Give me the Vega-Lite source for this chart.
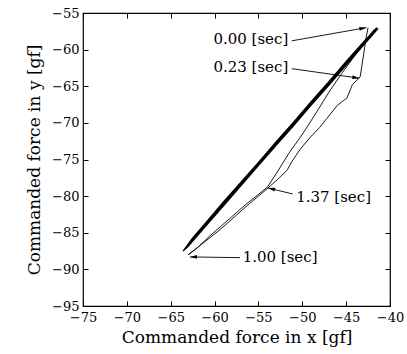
{
  "$schema": "https://vega.github.io/schema/vega-lite/v6.json",
  "width": 307,
  "height": 293,
  "autosize": {"type": "none"},
  "padding": {"left": 83, "top": 13, "right": 17, "bottom": 48},
  "background": "white",
  "config": {
    "view": {"stroke": "#000", "strokeWidth": 1.2},
    "font": "DejaVu Serif",
    "axis": {
      "grid": false,
      "domain": false,
      "tickColor": "#000",
      "tickSize": -5,
      "tickWidth": 1,
      "labelColor": "#000",
      "labelFont": "DejaVu Serif",
      "labelFontSize": 13,
      "titleFont": "DejaVu Serif",
      "titleFontSize": 17,
      "titleFontWeight": "normal",
      "titleColor": "#000",
      "labelFlush": false,
      "labelOverlap": false
    }
  },
  "datasets": {
    "traj": [
      {"s": "thin", "i": 1, "x": -42.5, "y": -57.0},
      {"s": "thin", "i": 2, "x": -42.7, "y": -58.2},
      {"s": "thin", "i": 3, "x": -43.0, "y": -60.6},
      {"s": "thin", "i": 4, "x": -43.4, "y": -63.7},
      {"s": "thin", "i": 5, "x": -44.3, "y": -64.8},
      {"s": "thin", "i": 6, "x": -44.9, "y": -66.6},
      {"s": "thin", "i": 7, "x": -46.0, "y": -67.6},
      {"s": "thin", "i": 8, "x": -47.2, "y": -69.4},
      {"s": "thin", "i": 9, "x": -48.0, "y": -70.6},
      {"s": "thin", "i": 10, "x": -49.2, "y": -72.1},
      {"s": "thin", "i": 11, "x": -50.3, "y": -73.7},
      {"s": "thin", "i": 12, "x": -51.2, "y": -75.3},
      {"s": "thin", "i": 13, "x": -51.7, "y": -76.4},
      {"s": "thin", "i": 14, "x": -52.6, "y": -77.5},
      {"s": "thin", "i": 15, "x": -54.4, "y": -79.4},
      {"s": "thin", "i": 16, "x": -56.0, "y": -81.0},
      {"s": "thin", "i": 17, "x": -57.6, "y": -82.7},
      {"s": "thin", "i": 18, "x": -59.5, "y": -84.7},
      {"s": "thin", "i": 19, "x": -61.3, "y": -86.4},
      {"s": "thin", "i": 20, "x": -63.0, "y": -88.0},
      {"s": "thin", "i": 21, "x": -62.2, "y": -87.3},
      {"s": "thin", "i": 22, "x": -60.6, "y": -85.5},
      {"s": "thin", "i": 23, "x": -58.6, "y": -83.4},
      {"s": "thin", "i": 24, "x": -56.4, "y": -81.1},
      {"s": "thin", "i": 25, "x": -54.0, "y": -78.8},
      {"s": "thin", "i": 26, "x": -52.9, "y": -76.8},
      {"s": "thin", "i": 27, "x": -51.5, "y": -74.1},
      {"s": "thin", "i": 28, "x": -49.9, "y": -71.4},
      {"s": "thin", "i": 29, "x": -48.3, "y": -68.4},
      {"s": "thin", "i": 30, "x": -46.8, "y": -65.5},
      {"s": "thin", "i": 31, "x": -45.4, "y": -63.1},
      {"s": "thin", "i": 32, "x": -44.0, "y": -60.8},
      {"s": "thin", "i": 33, "x": -42.8, "y": -58.8},
      {"s": "thin", "i": 34, "x": -41.5, "y": -57.0},
      {"s": "band", "i": 35, "x": -41.5, "y": -57.0},
      {"s": "band", "i": 36, "x": -43.0, "y": -58.9},
      {"s": "band", "i": 37, "x": -45.0, "y": -61.6},
      {"s": "band", "i": 38, "x": -47.0, "y": -64.4},
      {"s": "band", "i": 39, "x": -49.0, "y": -67.1},
      {"s": "band", "i": 40, "x": -51.0, "y": -69.9},
      {"s": "band", "i": 41, "x": -53.0, "y": -72.6},
      {"s": "band", "i": 42, "x": -55.0, "y": -75.4},
      {"s": "band", "i": 43, "x": -57.0, "y": -78.1},
      {"s": "band", "i": 44, "x": -59.0, "y": -80.8},
      {"s": "band", "i": 45, "x": -61.0, "y": -83.6},
      {"s": "band", "i": 46, "x": -62.5, "y": -85.7},
      {"s": "band", "i": 47, "x": -63.6, "y": -87.5},
      {"s": "band", "i": 48, "x": -63.2, "y": -87.1},
      {"s": "band", "i": 49, "x": -62.5, "y": -86.0},
      {"s": "band", "i": 50, "x": -61.0, "y": -84.0},
      {"s": "band", "i": 51, "x": -59.0, "y": -81.2},
      {"s": "band", "i": 52, "x": -57.0, "y": -78.5},
      {"s": "band", "i": 53, "x": -55.0, "y": -75.7},
      {"s": "band", "i": 54, "x": -53.0, "y": -73.0},
      {"s": "band", "i": 55, "x": -51.0, "y": -70.3},
      {"s": "band", "i": 56, "x": -49.0, "y": -67.5},
      {"s": "band", "i": 57, "x": -47.0, "y": -64.8},
      {"s": "band", "i": 58, "x": -45.0, "y": -62.0},
      {"s": "band", "i": 59, "x": -43.0, "y": -59.3},
      {"s": "band", "i": 60, "x": -41.6, "y": -57.3},
      {"s": "band", "i": 61, "x": -41.8, "y": -57.3},
      {"s": "band", "i": 62, "x": -43.0, "y": -59.05},
      {"s": "band", "i": 63, "x": -45.0, "y": -61.8},
      {"s": "band", "i": 64, "x": -47.0, "y": -64.5},
      {"s": "band", "i": 65, "x": -49.0, "y": -67.3},
      {"s": "band", "i": 66, "x": -51.0, "y": -70.0},
      {"s": "band", "i": 67, "x": -53.0, "y": -72.8},
      {"s": "band", "i": 68, "x": -55.0, "y": -75.5},
      {"s": "band", "i": 69, "x": -57.0, "y": -78.25},
      {"s": "band", "i": 70, "x": -59.0, "y": -81.0},
      {"s": "band", "i": 71, "x": -61.0, "y": -83.75},
      {"s": "band", "i": 72, "x": -62.5, "y": -85.8},
      {"s": "band", "i": 73, "x": -63.4, "y": -87.3},
      {"s": "band", "i": 74, "x": -63.0, "y": -86.85},
      {"s": "band", "i": 75, "x": -61.0, "y": -84.1},
      {"s": "band", "i": 76, "x": -59.0, "y": -81.35},
      {"s": "band", "i": 77, "x": -57.0, "y": -78.6},
      {"s": "band", "i": 78, "x": -55.0, "y": -75.85},
      {"s": "band", "i": 79, "x": -53.0, "y": -73.1},
      {"s": "band", "i": 80, "x": -51.0, "y": -70.4},
      {"s": "band", "i": 81, "x": -49.0, "y": -67.6},
      {"s": "band", "i": 82, "x": -47.0, "y": -64.9},
      {"s": "band", "i": 83, "x": -45.0, "y": -62.15},
      {"s": "band", "i": 84, "x": -43.0, "y": -59.4},
      {"s": "band", "i": 85, "x": -41.4, "y": -57.2},
      {"s": "band", "i": 86, "x": -41.6, "y": -57.2},
      {"s": "band", "i": 87, "x": -43.0, "y": -59.15},
      {"s": "band", "i": 88, "x": -45.0, "y": -61.9},
      {"s": "band", "i": 89, "x": -47.0, "y": -64.65},
      {"s": "band", "i": 90, "x": -49.0, "y": -67.4},
      {"s": "band", "i": 91, "x": -51.0, "y": -70.1},
      {"s": "band", "i": 92, "x": -53.0, "y": -72.9},
      {"s": "band", "i": 93, "x": -55.0, "y": -75.6},
      {"s": "band", "i": 94, "x": -57.0, "y": -78.35},
      {"s": "band", "i": 95, "x": -59.0, "y": -81.1},
      {"s": "band", "i": 96, "x": -61.0, "y": -83.85},
      {"s": "band", "i": 97, "x": -62.8, "y": -86.3}
    ],
    "notes": [
      {"label": "0.00 [sec]", "side": "right", "tx": -51.6, "ty": -58.5, "x1": -51.2, "y1": -58.8, "x2": -42.7, "y2": -57.0},
      {"label": "0.23 [sec]", "side": "right", "tx": -51.6, "ty": -62.4, "x1": -51.2, "y1": -62.6, "x2": -43.5, "y2": -63.9},
      {"label": "1.37 [sec]", "side": "left", "tx": -50.7, "ty": -80.1, "x1": -51.1, "y1": -79.7, "x2": -53.9, "y2": -78.9},
      {"label": "1.00 [sec]", "side": "left", "tx": -56.8, "ty": -88.3, "x1": -57.1, "y1": -88.4, "x2": -62.8, "y2": -88.3}
    ]
  },
  "layer": [
    {
      "data": {"name": "traj"},
      "transform": [{"filter": "datum.s === 'thin'"}],
      "mark": {"type": "line", "color": "#000", "strokeWidth": 0.9},
      "encoding": {
        "x": {"field": "x", "type": "quantitative", "scale": {"domain": [-75, -40], "nice": false, "zero": false},
              "axis": {"orient": "bottom", "values": [-75, -70, -65, -60, -55, -50, -45, -40], "title": "Commanded force in x [gf]", "labelPadding": 10, "titlePadding": 5}},
        "y": {"field": "y", "type": "quantitative", "scale": {"domain": [-95, -55], "nice": false, "zero": false},
              "axis": {"orient": "left", "values": [-95, -90, -85, -80, -75, -70, -65, -60, -55], "title": "Commanded force in y [gf]", "labelPadding": 9, "titlePadding": 8}},
        "order": {"field": "i", "type": "quantitative"}
      }
    },
    {
      "data": {"name": "traj"},
      "transform": [{"filter": "datum.s === 'band'"}],
      "mark": {"type": "line", "color": "#000", "strokeWidth": 1.1},
      "encoding": {
        "x": {"field": "x", "type": "quantitative", "scale": {"domain": [-75, -40], "nice": false, "zero": false},
              "axis": {"orient": "top", "values": [-75, -70, -65, -60, -55, -50, -45, -40], "labels": false, "title": null}},
        "y": {"field": "y", "type": "quantitative", "scale": {"domain": [-95, -55], "nice": false, "zero": false},
              "axis": {"orient": "right", "values": [-95, -90, -85, -80, -75, -70, -65, -60, -55], "labels": false, "title": null}},
        "order": {"field": "i", "type": "quantitative"}
      }
    },
    {
      "data": {"name": "notes"},
      "mark": {"type": "rule", "color": "#000", "strokeWidth": 0.9},
      "encoding": {
        "x": {"field": "x1", "type": "quantitative", "axis": null},
        "y": {"field": "y1", "type": "quantitative", "axis": null},
        "x2": {"field": "x2"},
        "y2": {"field": "y2"}
      }
    },
    {
      "data": {"name": "notes"},
      "transform": [{"filter": "datum.side === 'right'"}],
      "mark": {"type": "text", "align": "right", "baseline": "middle", "font": "DejaVu Serif", "fontSize": 15, "color": "#000"},
      "encoding": {
        "x": {"field": "tx", "type": "quantitative", "axis": null},
        "y": {"field": "ty", "type": "quantitative", "axis": null},
        "text": {"field": "label"}
      }
    },
    {
      "data": {"name": "notes"},
      "transform": [{"filter": "datum.side === 'left'"}],
      "mark": {"type": "text", "align": "left", "baseline": "middle", "font": "DejaVu Serif", "fontSize": 15, "color": "#000"},
      "encoding": {
        "x": {"field": "tx", "type": "quantitative", "axis": null},
        "y": {"field": "ty", "type": "quantitative", "axis": null},
        "text": {"field": "label"}
      }
    },
    {
      "data": {"name": "notes"},
      "transform": [{"filter": "datum.label === '0.00 [sec]'"}],
      "mark": {"type": "point", "filled": true, "color": "#000", "opacity": 1, "size": 49, "shape": "M0,0L0.55,2L-0.55,2Z", "angle": 80},
      "encoding": {
        "x": {"field": "x2", "type": "quantitative", "axis": null},
        "y": {"field": "y2", "type": "quantitative", "axis": null}
      }
    },
    {
      "data": {"name": "notes"},
      "transform": [{"filter": "datum.label === '0.23 [sec]'"}],
      "mark": {"type": "point", "filled": true, "color": "#000", "opacity": 1, "size": 49, "shape": "M0,0L0.55,2L-0.55,2Z", "angle": 98},
      "encoding": {
        "x": {"field": "x2", "type": "quantitative", "axis": null},
        "y": {"field": "y2", "type": "quantitative", "axis": null}
      }
    },
    {
      "data": {"name": "notes"},
      "transform": [{"filter": "datum.label === '1.37 [sec]'"}],
      "mark": {"type": "point", "filled": true, "color": "#000", "opacity": 1, "size": 49, "shape": "M0,0L0.55,2L-0.55,2Z", "angle": 283},
      "encoding": {
        "x": {"field": "x2", "type": "quantitative", "axis": null},
        "y": {"field": "y2", "type": "quantitative", "axis": null}
      }
    },
    {
      "data": {"name": "notes"},
      "transform": [{"filter": "datum.label === '1.00 [sec]'"}],
      "mark": {"type": "point", "filled": true, "color": "#000", "opacity": 1, "size": 49, "shape": "M0,0L0.55,2L-0.55,2Z", "angle": 270},
      "encoding": {
        "x": {"field": "x2", "type": "quantitative", "axis": null},
        "y": {"field": "y2", "type": "quantitative", "axis": null}
      }
    }
  ],
  "resolve": {"axis": {"x": "independent", "y": "independent"}}
}
